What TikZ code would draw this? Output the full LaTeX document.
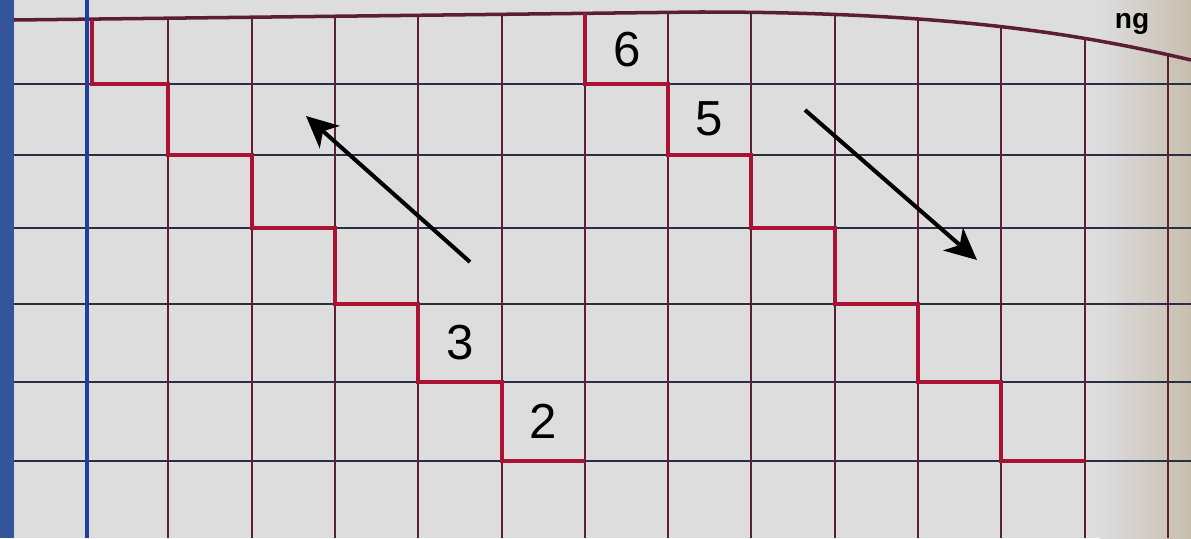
\documentclass[tikz,border=0pt]{standalone}
\usepackage{fontspec}
\setsansfont{Liberation Sans}
\usetikzlibrary{arrows.meta}

\definecolor{paper}{RGB}{221,221,222}
\definecolor{cover}{RGB}{52,84,156}
\definecolor{margin}{RGB}{32,62,158}
\definecolor{rowink}{RGB}{38,48,66}
\definecolor{colink}{RGB}{92,30,52}
\definecolor{stair}{RGB}{172,18,52}
\definecolor{edge}{RGB}{200,190,174}

\begin{document}
\begin{tikzpicture}[
  x=0.02cm, y=-0.02cm,
  font=\sffamily,
  >={Stealth[length=18pt,width=17pt,inset=5pt]},
  ruled/.style={draw=rowink,line width=1.4pt},
  colruled/.style={draw=colink,line width=0.8pt},
  stairline/.style={draw=stair,line width=2pt,line join=miter},
  num/.style={font=\fontsize{28}{30}\sffamily,text=black,inner sep=0pt},
  pointer/.style={->,line width=2.3pt,black}]
  \useasboundingbox (0,0) rectangle (1191,538);
  \fill[paper] (0,0) rectangle (1191,538);
  \shade[left color=paper,right color=edge] (1100,0) rectangle (1191,538);
  \fill[cover] (0,0) rectangle (14,538);
  % grid
  \foreach \y in {84,155,228,304,382,461}
    \draw[ruled] (14,\y) -- (1191,\y);
  \begin{scope}
    \clip (14,20) -- (700,12) .. controls (950,12) and (1080,34) .. (1191,60) -- (1191,538) -- (14,538) -- cycle;
    \foreach \x in {168,252,335,418,502,585,668,751,835,918,1001,1085,1168}
      \draw[colruled] (\x,0) -- (\x,538);
  \end{scope}
  \draw[draw=colink,line width=2pt] (14,20) -- (700,12) .. controls (950,12) and (1080,34) .. (1191,60);
  \draw[draw=margin,line width=2pt] (87,0) -- (87,538);
  \node[font=\fontsize{16}{18}\sffamily\bfseries,anchor=base,inner sep=1pt] (word) at (1132,28) {ng};
  % staircases
  \draw[stairline] (92,20) |- (168,84) |- (252,155) |- (335,228) |- (418,304) |- (502,382) |- (585,461);
  \draw[stairline] (585,13) |- (668,84) |- (751,155) |- (835,228) |- (918,304) |- (1001,382) |- (1085,461);
  \node[num] (n6) at (627,50)  {6};
  \node[num] (n5) at (709,119) {5};
  \node[num] (n3) at (460,343) {3};
  \node[num] (n2) at (543,421) {2};
  % arrows
  \coordinate (upstart) at (470,262);
  \coordinate (upend)   at (306,116);
  \coordinate (dnstart) at (805,110);
  \coordinate (dnend)   at (977,260);
  \draw[pointer] (upstart) -- (upend);
  \draw[pointer] (dnstart) -- (dnend);
\end{tikzpicture}
\end{document}
